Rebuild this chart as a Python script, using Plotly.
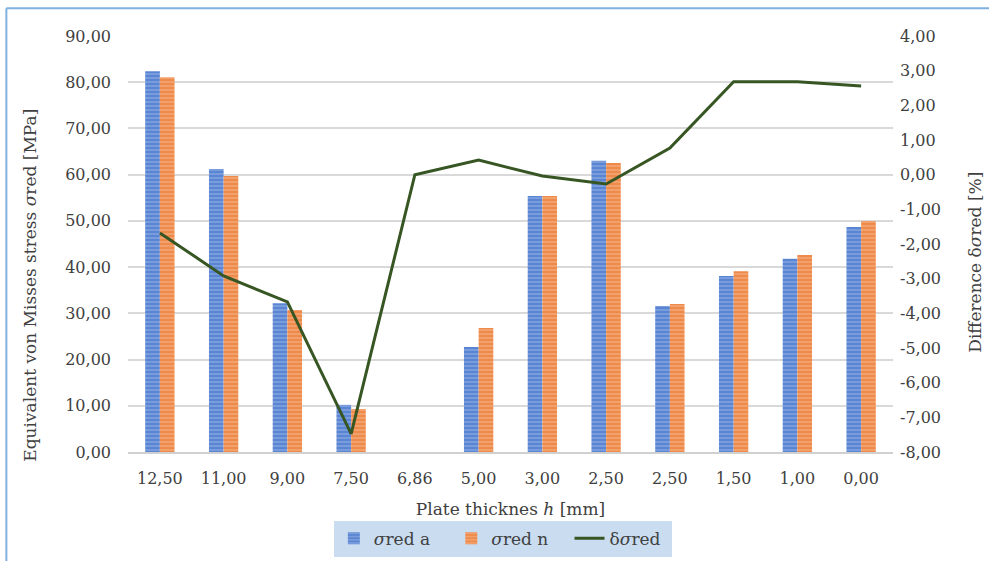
import plotly.graph_objects as go

categories = ["12,50", "11,00", "9,00", "7,50", "6,86", "5,00", "3,00", "2,50", "2,50", "1,50", "1,00", "0,00"]
sigma_red_a = [82.4, 61.2, 32.2, 10.2, None, 22.7, 55.4, 63.0, 31.6, 38.1, 41.8, 48.7]
sigma_red_n = [81.1, 59.7, 30.7, 9.3, None, 26.8, 55.4, 62.5, 32.0, 39.1, 42.6, 50.0]
delta_sigma_red = [-1.68, -2.92, -3.67, -7.48, 0.0, 0.42, -0.04, -0.27, 0.77, 2.68, 2.68, 2.56]
left_ticks = [0, 10, 20, 30, 40, 50, 60, 70, 80, 90]
right_ticks = [-8, -7, -6, -5, -4, -3, -2, -1, 0, 1, 2, 3, 4]

def fmt(v):
    return f"{v:.2f}".replace(".", ",")

x = list(range(len(categories)))
FONT = "DejaVu Serif"
TXT = "#404040"

fig = go.Figure()
fig.add_trace(go.Bar(
    x=x, y=sigma_red_a, name="<i>σ</i>red a   ",
    marker=dict(color="#5a85d3", line=dict(width=0),
                pattern=dict(shape="-", fgcolor="#9fb8e8", size=4, solidity=0.45)),
))
fig.add_trace(go.Bar(
    x=x, y=sigma_red_n, name="<i>σ</i>red n   ",
    marker=dict(color="#ee8a4a", line=dict(width=0),
                pattern=dict(shape="-", fgcolor="#f6bb94", size=4, solidity=0.45)),
))
fig.add_trace(go.Scatter(
    x=x, y=delta_sigma_red, name="δ<i>σ</i>red ", yaxis="y2",
    mode="lines", line=dict(color="#375623", width=3),
))

fig.update_layout(
    width=989, height=561,
    margin=dict(l=128, r=96, t=36, b=109, autoexpand=False),
    paper_bgcolor="white", plot_bgcolor="white",
    font=dict(family=FONT, size=16, color=TXT),
    barmode="group", bargap=0.54, bargroupgap=0,
    showlegend=True,
    legend=dict(orientation="h", x=0.49, xanchor="center", y=-0.165, yanchor="top",
                bgcolor="#c9dcf0", font=dict(family=FONT, size=17, color=TXT),
                traceorder="normal"),
    xaxis=dict(
        tickmode="array", tickvals=x, ticktext=categories, automargin=False,
        range=[-0.5, len(categories) - 0.5],
        showgrid=False, showline=True, linecolor="#d0d0d0", linewidth=1.5,
        ticks="", ticklabelstandoff=11, tickfont=dict(family=FONT, size=16, color=TXT),
        title=dict(text="Plate thicknes <i>h</i> [mm]", font=dict(family=FONT, size=17, color=TXT), standoff=16),
    ),
    yaxis=dict(
        range=[0, 90], tickmode="array", tickvals=left_ticks, automargin=False,
        ticktext=[fmt(v) for v in left_ticks],
        showgrid=True, gridcolor="#d9d9d9", gridwidth=1.5, zeroline=False,
        showline=False, ticks="", ticklabelstandoff=16,
        tickfont=dict(family=FONT, size=16, color=TXT),
    ),
    yaxis2=dict(
        range=[-8, 4], overlaying="y", side="right", tickmode="array", automargin=False,
        tickvals=right_ticks, ticktext=[fmt(v) for v in right_ticks],
        showgrid=False, zeroline=False, showline=False, ticks="",
        ticklabelstandoff=6,
        tickfont=dict(family=FONT, size=16, color=TXT),
    ),
    annotations=[
        dict(text="Equivalent von Misses stress <i>σ</i>red [MPa]", textangle=-90,
             xref="paper", yref="paper", x=-0.128, y=0.40, xanchor="center", yanchor="middle",
             showarrow=False, font=dict(family=FONT, size=17, color=TXT)),
        dict(text="Difference δ<i>σ</i>red [%]", textangle=-90,
             xref="paper", yref="paper", x=1.107, y=0.457, xanchor="center", yanchor="middle",
             showarrow=False, font=dict(family=FONT, size=17, color=TXT)),
    ],
    shapes=[
        dict(type="line", xref="paper", yref="paper", x0=-0.159, x1=1.13, y0=1.067, y1=1.067,
             line=dict(color="#7fb0df", width=2)),
        dict(type="line", xref="paper", yref="paper", x0=-0.159, x1=-0.159, y0=1.067, y1=-0.27,
             line=dict(color="#7fb0df", width=2)),
    ],
)

fig.write_html("out.html")
